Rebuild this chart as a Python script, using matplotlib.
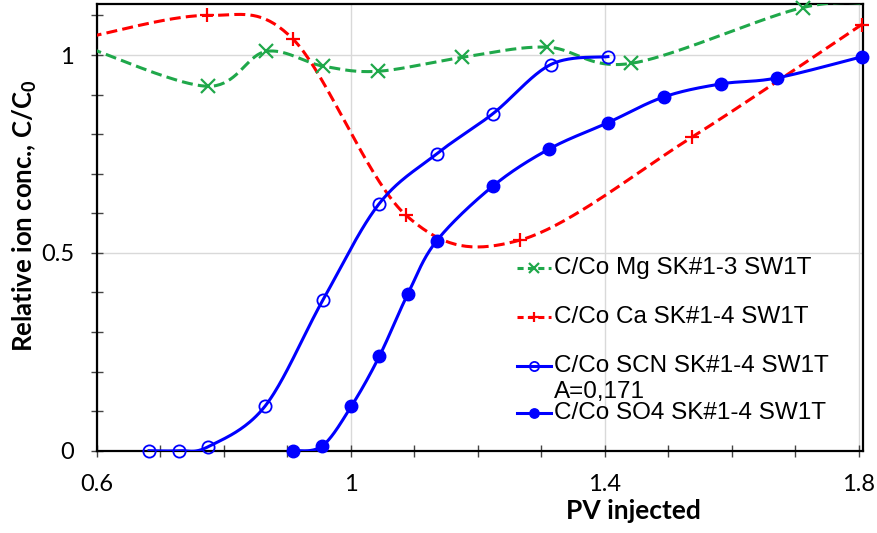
import numpy as np
import matplotlib
matplotlib.use("Agg")
import matplotlib.pyplot as plt
from matplotlib.ticker import MultipleLocator

# ---- data ----
mg_x = [0.59, 0.775, 0.866, 0.956, 1.043, 1.175, 1.309, 1.442, 1.712, 1.84]
mg_y = [1.016, 0.921, 1.009, 0.972, 0.959, 0.994, 1.020, 0.979, 1.120, 1.127]

ca_x = [0.59, 0.773, 0.909, 1.087, 1.266, 1.537, 1.805]
ca_y = [1.047, 1.100, 1.040, 0.595, 0.532, 0.792, 1.077]

scn_x = [0.682, 0.729, 0.775, 0.865, 0.956, 1.044, 1.135, 1.224, 1.315, 1.405]
scn_y = [0.0, 0.0, 0.010, 0.113, 0.381, 0.623, 0.750, 0.852, 0.976, 0.996]

so4_x = [0.909, 0.955, 1.001, 1.045, 1.090, 1.135, 1.224, 1.313, 1.405, 1.493, 1.583, 1.671, 1.806]
so4_y = [0.0, 0.012, 0.113, 0.239, 0.397, 0.530, 0.669, 0.763, 0.829, 0.894, 0.927, 0.942, 0.996]

labels = ["C/Co Mg SK#1-3 SW1T", "C/Co Ca SK#1-4 SW1T",
          "C/Co SCN SK#1-4 SW1T", "C/Co SO4 SK#1-4 SW1T"]
extra_label = "A=0,171"
x_ticks = [0.6, 1.0, 1.4, 1.8]
x_ticklabels = ["0.6", "1", "1.4", "1.8"]
y_ticks = [0, 0.5, 1.0]
y_ticklabels = ["0", "0.5", "1"]
xlabel = "PV injected"
ylabel = "Relative ion conc., C/C$_\\mathregular{0}$"

XLIM = (0.6, 1.807)
YLIM = (0.0, 1.129)

GREEN = "#1FA84A"
RED = "#FF0000"
BLUE = "#0000FF"


def smooth(xs, ys, sx=634.4, sy=395.7, n=40):
    """Excel-like smoothed line (Catmull-Rom Bezier) through the points."""
    P = np.column_stack([np.asarray(xs, float) * sx, np.asarray(ys, float) * sy])
    pts = np.vstack([P[0], P, P[-1]])
    t = np.linspace(0, 1, n)[:, None]
    out = []
    for i in range(1, len(pts) - 2):
        p0, p1, p2, p3 = pts[i - 1], pts[i], pts[i + 1], pts[i + 2]
        c1 = p1 + (p2 - p0) / 6.0
        c2 = p2 - (p3 - p1) / 6.0
        b = (1 - t) ** 3 * p1 + 3 * (1 - t) ** 2 * t * c1 + 3 * (1 - t) * t ** 2 * c2 + t ** 3 * p2
        out.append(b if i == 1 else b[1:])
    c = np.vstack(out)
    return c[:, 0] / sx, c[:, 1] / sy


fig = plt.figure(figsize=(8.77, 5.33), dpi=100)
ax = fig.add_axes([97 / 877, 82.3 / 533, 766 / 877, 446.7 / 533])

lw = 2.2
dash = (0, (3.6, 1.7))

styles = [
    dict(color=GREEN, ls=dash, marker="x", ms=9.5, mew=1.6, mfc=GREEN),
    dict(color=RED, ls=dash, marker="+", ms=10, mew=1.6, mfc=RED),
    dict(color=BLUE, ls="-", marker="o", ms=8.8, mew=1.3, mfc="none"),
    dict(color=BLUE, ls="-", marker="o", ms=9.0, mew=1.0, mfc=BLUE),
]
series = [(mg_x, mg_y), (ca_x, ca_y), (scn_x, scn_y), (so4_x, so4_y)]

for (xs, ys), st in zip(series, styles):
    sx_, sy_ = smooth(xs, ys)
    ax.plot(sx_, sy_, color=st["color"], ls=st["ls"], lw=lw, zorder=3)
    xs_a = np.asarray(xs)
    ys_a = np.asarray(ys)
    vis = (xs_a >= XLIM[0]) & (xs_a <= XLIM[1] + 1e-9)
    ax.plot(xs_a[vis], ys_a[vis], ls="none", marker=st["marker"], ms=st["ms"],
            mew=st["mew"], mec=st["color"], mfc=st["mfc"], clip_on=False, zorder=4)

ax.set_xlim(*XLIM)
ax.set_ylim(*YLIM)
ax.set_xticks(x_ticks)
ax.set_xticklabels(x_ticklabels)
ax.set_yticks(y_ticks)
ax.set_yticklabels(y_ticklabels)
ax.xaxis.set_minor_locator(MultipleLocator(0.1))
ax.yaxis.set_minor_locator(MultipleLocator(0.1))
ax.grid(True, which="major", color="#D9D9D9", lw=1.0, zorder=0)
ax.set_axisbelow(True)

for s in ax.spines.values():
    s.set_linewidth(1.6)
    s.set_color("black")

ax.tick_params(which="both", direction="inout", length=9, width=1.0, color="#444444")
ax.tick_params(axis="x", which="major", pad=12)
ax.tick_params(axis="y", which="major", pad=12)
for lab in ax.get_xticklabels() + ax.get_yticklabels():
    lab.set_fontfamily(["Lato", "DejaVu Sans"])
    lab.set_fontsize(17)

ax.set_xlabel(xlabel, fontfamily=["Lato", "DejaVu Sans"], fontsize=19, fontweight="bold")
ax.set_ylabel(ylabel, fontfamily=["Lato", "DejaVu Sans"], fontsize=18.5, fontweight="bold")
ax.xaxis.set_label_coords((633 - 97) / 766, -(511 - 450.7) / 446.7)
ax.yaxis.set_label_coords((25 - 97) / 766, (450.7 - 216) / 446.7)
ax.xaxis.label.set_va("center")
ax.yaxis.label.set_va("center")

# ---- manual legend ----
h0, h1 = (517 - 97) / 766, (551 - 97) / 766
tx = (554 - 97) / 766
rows_px = [268, 317, 366, 413]
for (st, lab, rp) in zip(styles, labels, rows_px):
    yy = (450.7 - rp) / 446.7
    ax.plot([h0, h1], [yy, yy], transform=ax.transAxes, color=st["color"],
            ls=(0, (2.0, 1.4)) if st["ls"] != "-" else "-", lw=lw, clip_on=False, zorder=5)
    ax.plot([(h0 + h1) / 2], [yy], transform=ax.transAxes, ls="none",
            marker=st["marker"], ms=st["ms"] * 0.75, mew=st["mew"], mec=st["color"],
            mfc=st["mfc"], clip_on=False, zorder=6)
    ax.text(tx, yy, lab, transform=ax.transAxes, va="center", ha="left",
            fontfamily=["Liberation Sans", "DejaVu Sans"], fontsize=17.5, zorder=6)
ax.text(tx, (450.7 - 392) / 446.7, extra_label, transform=ax.transAxes, va="center",
        ha="left", fontfamily=["Liberation Sans", "DejaVu Sans"], fontsize=17.5, zorder=6)

fig.savefig("out.png", dpi=100)
